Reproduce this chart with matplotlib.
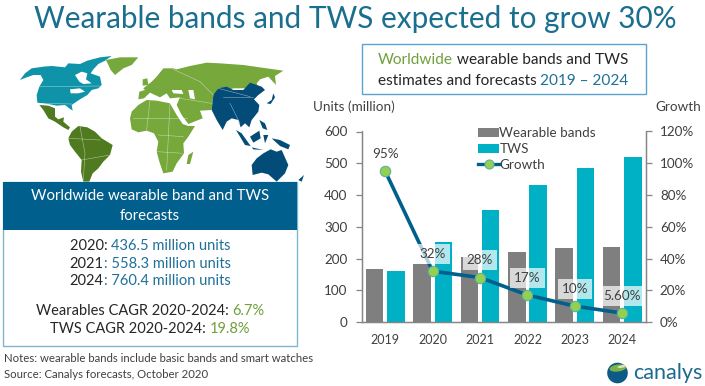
import matplotlib
matplotlib.use("Agg")
import matplotlib.pyplot as plt
from matplotlib.patches import Polygon, Rectangle, Circle, Ellipse, Patch
from matplotlib.lines import Line2D

plt.rcParams['font.family'] = ['Lato', 'DejaVu Sans']

# ---- data ----
years = ['2019', '2020', '2021', '2022', '2023', '2024']
wearable_bands = [168, 182, 205, 222, 233, 237]
tws = [160, 253, 352, 432, 486, 521]
growth = [95, 32, 28, 17, 10, 5.6]
growth_labels = ['95%', '32%', '28%', '17%', '10%', '5.60%']

GREY = '#7F7F7F'; CYAN = '#00B0C4'; NAVY = '#005F8C'; LIME = '#92D050'
TXT = '#404040'; BLUE = '#1F7099'; GREEN = '#6FA03C'
MAP_GREEN = '#76A83C'; MAP_DARK = '#4F7A1F'; MAP_TEAL = '#0F93A8'; MAP_BLUE = '#034C78'

W, H = 705, 386
fig = plt.figure(figsize=(W/100, H/100), dpi=100, facecolor='white')
bg = fig.add_axes([0, 0, 1, 1]); bg.set_xlim(0, W); bg.set_ylim(H, 0); bg.axis('off')
rend = fig.canvas.get_renderer()

def px(s):
    return s * 0.72

def width(s, size):
    a = bg.text(0, 0, s + 'x', fontsize=size); b = bg.text(0, 0, 'x', fontsize=size)
    w = a.get_window_extent(rend).width - b.get_window_extent(rend).width
    a.remove(); b.remove()
    return w

def fit(s, target):
    return 20 * target / width(s, 20)

def multi(cx, y, parts, size, z=6):
    total = sum(width(t, size) for t, _ in parts)
    x = cx - total / 2
    for t, c in parts:
        bg.text(x, y, t, color=c, fontsize=size, ha='left', va='center', zorder=z)
        x += width(t, size)

# ---- title ----
title = 'Wearable bands and TWS expected to grow 30%'
bg.text(355, 19, title, color='#1A6E8E', fontsize=fit(title, 644), ha='center', va='center')

# ---- map (decorative outline, zoom-crop coordinates) ----
def land(pts, color, z=1):
    bg.add_patch(Polygon([(x/3, 40+y/3) for x, y in pts], closed=True, fc=color, ec='none', zorder=z))

def border(pts):
    bg.plot([x/3 for x, y in pts], [40+y/3 for x, y in pts], color='white', lw=0.4, alpha=0.55, zorder=3)

land([(60,120),(75,100),(95,85),(130,80),(155,78),(195,82),(205,70),(240,72),(262,62),(300,52),(335,48),(315,62),
      (295,72),(280,88),(272,100),(300,110),(305,135),(295,145),(275,150),(262,165),(240,178),(222,190),(215,195),
      (218,212),(208,205),(195,195),(170,197),(150,193),(130,190),(112,188),(110,165),(118,140),(130,120),(122,105),(100,105),(80,112)], MAP_TEAL)
land([(225,105),(245,95),(262,100),(258,118),(275,130),(250,132),(238,125)], 'white', 2)
land([(210,148),(240,145),(255,155),(235,160),(212,160)], 'white', 2)
land([(118,195),(145,197),(165,205),(165,230),(175,238),(192,232),(190,245),(210,262),(205,270),(190,262),(165,245),(145,235),(130,210)], MAP_DARK)
land([(205,295),(215,275),(235,258),(262,262),(285,275),(305,295),(338,315),(330,345),(310,365),(295,385),(278,400),(268,425),(250,425),
      (243,395),(245,360),(225,335),(210,315)], MAP_DARK)
land([(318,60),(360,52),(415,52),(395,75),(370,85),(345,105),(332,90)], MAP_GREEN)
land([(415,178),(418,155),(435,150),(430,145),(455,125),(470,110),(490,85),(520,85),(530,88),(570,78),(620,68),(660,70),(730,75),(800,85),
      (850,92),(825,108),(828,135),(805,110),(780,118),(770,130),(775,145),(700,145),(640,165),(635,210),(600,212),(608,235),(565,252),
      (545,225),(530,195),(540,172),(510,175),(500,160),(480,172),(450,158),(432,175)], MAP_GREEN)
land([(428,118),(442,115),(445,135),(428,137)], MAP_GREEN)
land([(515,150),(545,150),(550,162),(520,160)], 'white', 2)
land([(565,150),(580,150),(585,178),(570,175)], 'white', 2)
land([(390,235),(395,215),(415,195),(440,180),(470,182),(510,190),(530,225),(548,252),(565,258),(585,258),(565,290),(550,310),(552,340),
      (530,370),(518,395),(490,400),(478,365),(470,335),(475,305),(462,280),(440,272),(415,277),(395,268)], MAP_GREEN, 2)
land([(565,345),(580,335),(570,372),(560,372)], MAP_GREEN)
land([(640,165),(655,145),(680,140),(700,150),(730,150),(750,128),(785,140),(795,150),(775,165),(762,178),(778,195),(775,215),(755,240),
      (748,262),(735,250),(722,262),(715,240),(695,235),(680,245),(668,270),(650,240),(635,210)], MAP_BLUE, 2)
for poly in ([(800,190),(815,180),(820,160),(825,172),(812,192)],
             [(708,270),(725,280),(752,318),(735,315)],
             [(755,322),(790,330),(760,328)],
             [(750,290),(778,272),(782,295),(760,308)],
             [(790,285),(805,285),(795,310)],
             [(815,295),(840,300),(870,315),(865,328),(840,318)],
             [(778,240),(795,250),(802,270),(788,265)],
             [(755,375),(770,355),(790,340),(812,328),(830,335),(845,330),(865,375),(855,400),(830,425),(805,403),(785,398),(758,405)],
             [(895,420),(912,405),(905,425)]):
    land(poly, MAP_BLUE, 2)
border([(118,140),(300,138)]); border([(118,190),(215,192)])
border([(240,260),(255,340),(250,420)]); border([(205,295),(300,300)]); border([(245,360),(330,345)])
border([(475,285),(550,290)]); border([(400,235),(560,235)]); border([(470,335),(550,340)])
border([(510,190),(500,390)]); border([(450,182),(440,270)]); border([(600,125),(640,165)]); border([(520,88),(600,125)])
border([(540,175),(635,190)]); border([(670,170),(760,170)]); border([(690,190),(720,250)]); border([(655,145),(750,170)])

# ---- left panel ----
bg.add_patch(Rectangle((2.5, 182), 294.5, 164, fc='white', ec='#7FB5CF', lw=1.0, zorder=4))
bg.add_patch(Rectangle((2.5, 182), 294.5, 48, fc=NAVY, ec='none', zorder=5))
hs = fit('Worldwide wearable band and TWS', 238)
for y, s in ((196, 'Worldwide wearable band and TWS'), (216, 'forecasts')):
    bg.text(150, y, s, color='white', fontsize=hs, ha='center', va='center', zorder=6)
ls = fit('Wearables CAGR 2020-2024: 6.7%', 228)
for y, a, b in ((246, '2020: ', '436.5 million units'), (263.5, '2021', ': 558.3 million units'), (281, '2024', ': 760.4 million units')):
    multi(150, y, [(a, '#262626'), (b, BLUE)], ls)
multi(150, 311, [('Wearables CAGR 2020-2024: ', '#262626'), ('6.7%', GREEN)], ls)
multi(150, 329, [('TWS CAGR 2020-2024: ', '#262626'), ('19.8%', GREEN)], ls)
ns = fit('Notes: wearable bands include basic bands and smart watches', 312)
bg.text(4, 359, 'Notes: wearable bands include basic bands and smart watches', color=TXT, fontsize=ns, va='center')
bg.text(4, 374, 'Source: Canalys forecasts, October 2020', color=TXT, fontsize=ns, va='center')

# ---- right heading box ----
bg.add_patch(Rectangle((361.5, 44), 284.5, 50, fc='white', ec='#5AA5CF', lw=1.0))
rs = fit('Worldwide wearable bands and TWS', 250)
multi(503, 60, [('Worldwide', GREEN), (' wearable bands and TWS', '#262626')], rs)
multi(503, 81, [('estimates and forecasts ', '#262626'), ('2019 – 2024', BLUE)], rs)
bg.text(313, 107, 'Units (million)', color=TXT, fontsize=px(13.5), va='center')
bg.text(655, 107, 'Growth', color=TXT, fontsize=px(13.5), va='center')

# ---- chart ----
ax = fig.add_axes([361.5/W, 1-322/H, (646-361.5)/W, (322-131.5)/H], facecolor='none')
xs = list(range(len(years)))
bw = 0.37; off = 0.225
ax.bar([x-off for x in xs], wearable_bands, bw, color=GREY, label='Wearable bands')
ax.bar([x+off for x in xs], tws, bw, color=CYAN, label='TWS')
ax.set_xlim(-0.5, 5.5); ax.set_ylim(0, 600)
ax.set_yticks(range(0, 601, 100)); ax.set_xticks(xs); ax.set_xticklabels(years)
ax2 = ax.twinx(); ax2.set_facecolor('none')
ax2.plot(xs, growth, color=NAVY, lw=2.6, marker='o', ms=7.5, mfc=LIME, mec='#5FB0A0', mew=0.8, label='Growth', solid_capstyle='round')
ax2.set_ylim(0, 120); ax2.set_yticks(range(0, 121, 20)); ax2.set_yticklabels([f'{v}%' for v in range(0, 121, 20)])
for a in (ax, ax2):
    a.spines['top'].set_visible(False)
    for s in a.spines.values():
        s.set_color('#868686'); s.set_linewidth(0.9)
    a.tick_params(axis='y', length=4, width=0.9, color='#868686', labelcolor=TXT, labelsize=px(13.5), pad=6)
ax.tick_params(axis='x', length=0, labelcolor=TXT, labelsize=px(12.5), pad=9)
for x, g, s in zip(xs, growth, growth_labels):
    ax2.annotate(s, (x, g), xytext=(0, 12.5), textcoords='offset points', ha='center', va='center',
                 color=TXT, fontsize=px(13.5), zorder=6,
                 bbox=dict(boxstyle='square,pad=0.3', fc='white', ec='none', alpha=0.7))
handles = [Patch(fc=GREY, label='Wearable bands'), Patch(fc=CYAN, label='TWS'),
           Line2D([], [], color=NAVY, lw=2.4, marker='o', ms=6.5, mfc=LIME, mec='#5FB0A0', mew=0.8, label='Growth')]
leg = ax2.legend(handles=handles, loc='upper left', bbox_to_anchor=(469/W, 1-118/H), bbox_transform=fig.transFigure,
                 frameon=False, fontsize=px(13.5), handlelength=1.55, handletextpad=0.0, labelspacing=0.28,
                 handleheight=0.6, borderpad=0.2, labelcolor=TXT)
leg.set_zorder(7)

# ---- logo ----
logo = bg.add_patch(Circle((617.5, 373), 10.3, fc='#0E5A86', ec='none'))
swoosh = Ellipse((618, 368), 17, 7, angle=-8, fc='#7DB24A', ec='none')
bg.add_patch(swoosh); swoosh.set_clip_path(logo)
hl = Ellipse((622, 366.5), 9, 2.5, angle=-10, fc='#D9E8C0', ec='none')
bg.add_patch(hl); hl.set_clip_path(logo)
bg.text(633, 373, 'canalys', color='#1D6A8F', fontsize=fit('canalys', 69), va='center')

fig.savefig('out.png', dpi=100)
